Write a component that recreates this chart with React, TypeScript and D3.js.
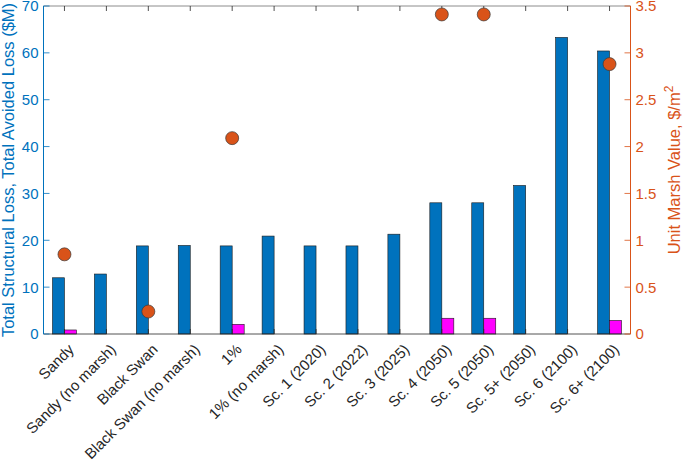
import React from "react";
import * as d3 from "d3";

const categories = [
  "Sandy", "Sandy (no marsh)", "Black Swan", "Black Swan (no marsh)", "1%", "1% (no marsh)",
  "Sc. 1 (2020)", "Sc. 2 (2022)", "Sc. 3 (2025)", "Sc. 4 (2050)", "Sc. 5 (2050)",
  "Sc. 5+ (2050)", "Sc. 6 (2100)", "Sc. 6+ (2100)",
];
const structuralLoss = [12.0, 12.8, 18.8, 18.9, 18.8, 20.9, 18.8, 18.8, 21.3, 28.0, 28.0, 31.7, 63.3, 60.4];
const avoidedLoss = [0.86, 0, 0, 0, 2.07, 0, 0, 0, 0, 3.36, 3.36, 0, 0, 2.9];
const marshValue: (number | null)[] = [0.85, null, 0.24, null, 2.09, null, null, null, null, 3.41, 3.41, null, null, 2.88];
const leftTicks = [0, 10, 20, 30, 40, 50, 60, 70];
const rightTicks = [0, 0.5, 1, 1.5, 2, 2.5, 3, 3.5];

const BLUE = "#0072BD";
const ORANGE = "#D95319";
const MAGENTA = "#FF00FF";
const DARK = "#262626";
const FONT = "'Liberation Sans', Arial, Helvetica, sans-serif";

export default function App() {
  const W = 685, H = 461;
  const left = 43.5, right = 630.5, top = 6, bottom = 334;
  const x = d3.scaleLinear().domain([0.5, categories.length + 0.5]).range([left, right]);
  const yL = d3.scaleLinear().domain([0, 70]).range([bottom, top]);
  const yR = d3.scaleLinear().domain([0, 3.5]).range([bottom, top]);
  const bw = 12;

  return (
    <svg width={W} height={H} style={{ position: "absolute", left: 0, top: 0, background: "#fff" }}
      fontFamily={FONT}>
      {/* bars */}
      {categories.map((c, i) => {
        const cx = x(i + 1);
        return (
          <g key={c}>
            <rect x={cx - bw} y={yL(structuralLoss[i])} width={bw} height={bottom - yL(structuralLoss[i])}
              fill={BLUE} stroke="#1a1a1a" strokeWidth={0.6} />
            {avoidedLoss[i] > 0 && (
              <rect x={cx} y={yL(avoidedLoss[i])} width={bw} height={bottom - yL(avoidedLoss[i])}
                fill={MAGENTA} stroke="#1a1a1a" strokeWidth={0.6} />
            )}
          </g>
        );
      })}
      {/* box top & bottom */}
      <line x1={left} x2={right} y1={top} y2={top} stroke="#8c8c8c" strokeWidth={1} />
      <line x1={left} x2={right} y1={bottom} y2={bottom} stroke={DARK} strokeWidth={0.8} />
      {/* x ticks */}
      {categories.map((c, i) => (
        <g key={"t" + c}>
          <line x1={x(i + 1)} x2={x(i + 1)} y1={top} y2={top + 5} stroke={DARK} strokeWidth={0.8} />
          <line x1={x(i + 1)} x2={x(i + 1)} y1={bottom} y2={bottom - 5} stroke={DARK} strokeWidth={0.8} />
          <text transform={`translate(${x(i + 1) + 3},${bottom + 9}) rotate(-45)`} textAnchor="end"
            dy="0.7em" fontSize={15} fill={DARK}>{c}</text>
        </g>
      ))}
      {/* left axis */}
      <line x1={left} x2={left} y1={top} y2={bottom} stroke={BLUE} strokeWidth={1} />
      {leftTicks.map((t) => (
        <g key={"l" + t}>
          <line x1={left} x2={left + 6} y1={yL(t)} y2={yL(t)} stroke={BLUE} strokeWidth={0.8} />
          <text x={left - 5} y={yL(t)} dy="0.36em" textAnchor="end" fontSize={15} fill={BLUE}>{t}</text>
        </g>
      ))}
      <text transform={`translate(14,${(top + bottom) / 2}) rotate(-90)`} textAnchor="middle"
        fontSize={16.5} fill={BLUE}>Total Structural Loss, Total Avoided Loss ($M)</text>
      {/* right axis */}
      <line x1={right} x2={right} y1={top} y2={bottom} stroke={ORANGE} strokeWidth={1} />
      {rightTicks.map((t) => (
        <g key={"r" + t}>
          <line x1={right} x2={right - 6} y1={yR(t)} y2={yR(t)} stroke={ORANGE} strokeWidth={0.8} />
          <text x={right + 5} y={yR(t)} dy="0.36em" textAnchor="start" fontSize={15} fill={ORANGE}>{t}</text>
        </g>
      ))}
      <text transform={`translate(680,${(top + bottom) / 2}) rotate(-90)`} textAnchor="middle"
        fontSize={16.5} fill={ORANGE}>Unit Marsh Value, $/m<tspan dy="-7" fontSize={12}>2</tspan></text>
      {/* dots */}
      {marshValue.map((v, i) =>
        v == null ? null : (
          <circle key={"d" + i} cx={x(i + 1)} cy={yR(v)} r={6.5} fill={ORANGE} stroke="#3a3a3a" strokeWidth={0.7} />
        )
      )}
    </svg>
  );
}
